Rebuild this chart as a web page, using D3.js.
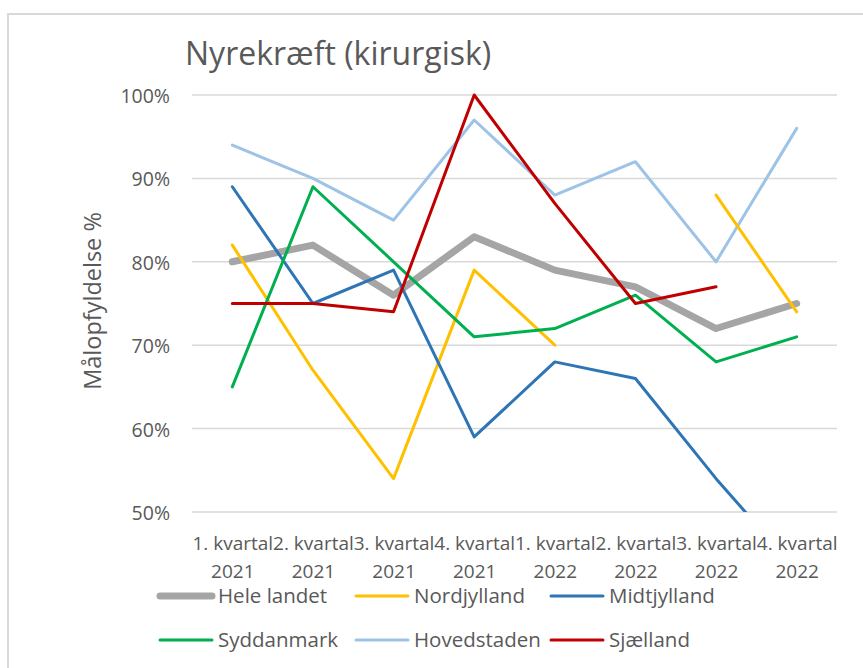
<!DOCTYPE html>
<html>
<head>
<meta charset="utf-8">
<script src="https://cdn.jsdelivr.net/npm/d3@7"></script>
<style>
  body { margin: 0; background: #fff; }
  svg { display: block; font-family: "Open Sans", sans-serif; }
</style>
</head>
<body>
<div id="chart"></div>
<script>
const quarters = ["1. kvartal|2021", "2. kvartal|2021", "3. kvartal|2021", "4. kvartal|2021",
                  "1. kvartal|2022", "2. kvartal|2022", "3. kvartal|2022", "4. kvartal|2022"];
const yTicks = [0.5, 0.6, 0.7, 0.8, 0.9, 1.0];

const heleLandet   = [80, 82, 76, 83, 79, 77, 72, 75];
const nordjylland  = [82, 67, 54, 79, 70, null, 88, 74];
const midtjylland  = [89, 75, 79, 59, 68, 66, 54, 43];
const syddanmark   = [65, 89, 80, 71, 72, 76, 68, 71];
const hovedstaden  = [94, 90, 85, 97, 88, 92, 80, 96];
const sjaelland    = [75, 75, 74, 100, 87, 75, 77, null];

const series = [
    { name: "Hele landet", values: heleLandet, color: "#A5A5A5", width: 7 },
    { name: "Nordjylland", values: nordjylland, color: "#FFC000", width: 3 },
    { name: "Midtjylland", values: midtjylland, color: "#2E75B6", width: 3 },
    { name: "Syddanmark", values: syddanmark, color: "#00B050", width: 3 },
    { name: "Hovedstaden", values: hovedstaden, color: "#9DC3E6", width: 3 },
    { name: "Sjælland", values: sjaelland, color: "#C00000", width: 3 }
];
// order the lines are painted in
const drawOrder = [4, 0, 1, 2, 3, 5];

const W = 863, H = 668;
const plot = { left: 192, right: 837, top: 95, bottom: 512 };

const svg = d3.select("#chart").append("svg")
    .attr("width", W)
    .attr("height", H);

svg.append("rect")
    .attr("x", 8).attr("y", 14)
    .attr("width", W + 10).attr("height", H + 10)
    .attr("fill", "#fff")
    .attr("stroke", "#D9D9D9")
    .attr("stroke-width", 2);

svg.append("text")
    .attr("x", 185).attr("y", 65)
    .attr("font-size", 32)
    .attr("fill", "#595959")
    .text("Nyrekræft (kirurgisk)");

const x = d3.scalePoint()
    .domain(quarters)
    .range([plot.left, plot.right])
    .padding(0.5);

const y = d3.scaleLinear()
    .domain([0.5, 1.0])
    .range([plot.bottom, plot.top]);

// gridlines
svg.append("g")
    .selectAll("line")
    .data(yTicks)
    .join("line")
    .attr("x1", plot.left).attr("x2", plot.right)
    .attr("y1", d => y(d)).attr("y2", d => y(d))
    .attr("stroke", "#D9D9D9")
    .attr("stroke-width", 1.5);

// y axis labels
const yAxis = d3.axisLeft(y)
    .tickValues(yTicks)
    .tickFormat(d3.format(".0%"))
    .tickSize(0)
    .tickPadding(0);

const yG = svg.append("g")
    .attr("transform", `translate(170,0)`)
    .call(yAxis);
yG.select(".domain").remove();
yG.selectAll("text")
    .attr("font-family", "Open Sans, sans-serif")
    .attr("font-size", 19.5)
    .attr("fill", "#595959")
    .attr("dy", "0.38em");

svg.append("text")
    .attr("transform", "translate(101,301) rotate(-90)")
    .attr("text-anchor", "middle")
    .attr("font-size", 23.5)
    .attr("fill", "#595959")
    .text("Målopfyldelse %");

// x axis labels (two lines)
const xAxis = d3.axisBottom(x).tickSize(0).tickFormat("");
const xG = svg.append("g")
    .attr("transform", `translate(0,${plot.bottom})`)
    .call(xAxis);
xG.select(".domain").remove();
xG.selectAll(".tick").each(function(d) {
    const parts = d.split("|");
    const t = d3.select(this).select("text")
        .attr("font-family", "Open Sans, sans-serif")
        .attr("font-size", 19)
        .attr("fill", "#595959")
        .attr("text-anchor", "middle")
        .attr("dy", null)
        .attr("y", 0);
    t.selectAll("tspan").data(parts).join("tspan")
        .attr("x", 0)
        .attr("y", (p, i) => 38 + i * 28)
        .text(p => p);
});

// lines
svg.append("clipPath").attr("id", "plotClip")
    .append("rect")
    .attr("x", 0).attr("y", 0)
    .attr("width", W).attr("height", plot.bottom);

const line = d3.line()
    .defined(d => d.v !== null)
    .x(d => x(d.q))
    .y(d => y(d.v / 100));

const linesG = svg.append("g").attr("clip-path", "url(#plotClip)");
drawOrder.forEach(i => {
    const s = series[i];
    linesG.append("path")
        .datum(quarters.map((q, j) => ({ q: q, v: s.values[j] })))
        .attr("d", line)
        .attr("fill", "none")
        .attr("stroke", s.color)
        .attr("stroke-width", s.width)
        .attr("stroke-linejoin", "round")
        .attr("stroke-linecap", "round");
});

// legend
const legendCols = [158, 354, 549];
const legendRows = [596, 640];
const legend = svg.append("g")
    .selectAll("g")
    .data(series)
    .join("g")
    .attr("transform", (d, i) => `translate(${legendCols[i % 3]},${legendRows[Math.floor(i / 3)]})`);

legend.append("line")
    .attr("x1", 2).attr("x2", 54)
    .attr("y1", 0).attr("y2", 0)
    .attr("stroke", d => d.color)
    .attr("stroke-width", d => d.width)
    .attr("stroke-linecap", "round");

legend.append("text")
    .attr("x", 60)
    .attr("y", 0)
    .attr("dy", "0.36em")
    .attr("font-size", 20.5)
    .attr("fill", "#595959")
    .text(d => d.name);
</script>
</body>
</html>
